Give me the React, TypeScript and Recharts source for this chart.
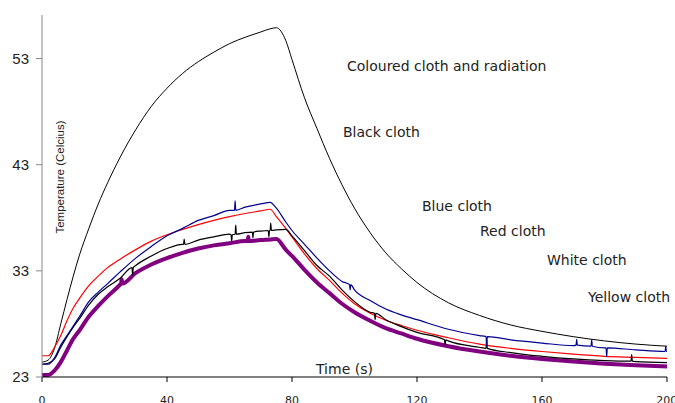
import { LineChart, Line, XAxis, YAxis } from "recharts";

// time in seconds, shared by the five base series
const time = [0, 2, 4, 6, 8, 10, 12, 15, 18, 21, 25, 30, 35, 40, 45, 50, 55, 60, 65, 70, 73, 75, 78, 80, 84, 88, 92, 96, 100, 105, 110, 115, 120, 130, 140, 150, 160, 170, 180, 190, 200];

const blackCloth = [24.4, 24.6, 25.7, 28.0, 30.3, 32.5, 34.5, 37.0, 39.3, 41.3, 43.7, 46.3, 48.5, 50.2, 51.6, 52.7, 53.6, 54.4, 55.0, 55.5, 55.8, 55.9, 54.7, 52.9, 49.3, 46.4, 43.6, 41.1, 38.9, 36.6, 34.7, 33.2, 31.9, 30.0, 28.8, 27.9, 27.3, 26.8, 26.4, 26.1, 25.9];
const blueCloth = [24.2, 24.2, 24.8, 26.0, 26.9, 27.8, 28.7, 30.1, 31.0, 31.8, 32.9, 34.2, 35.3, 36.3, 37.0, 37.75, 38.2, 38.7, 39.0, 39.3, 39.45, 38.9, 37.6, 36.8, 35.5, 34.2, 33.0, 32.0, 31.2, 30.2, 29.4, 28.85, 28.4, 27.5, 26.9, 26.5, 26.2, 25.95, 25.75, 25.55, 25.4];
const redCloth = [25.0, 25.0, 25.8, 26.9, 28.3, 29.5, 30.4, 31.6, 32.5, 33.3, 34.1, 35.0, 35.8, 36.4, 36.9, 37.35, 37.75, 38.1, 38.4, 38.65, 38.8, 38.1, 37.0, 36.2, 34.6, 33.2, 32.1, 30.9, 29.9, 29.0, 28.35, 27.85, 27.4, 26.7, 26.1, 25.7, 25.4, 25.15, 24.95, 24.85, 24.75];
const whiteCloth = [24.2, 24.3, 24.7, 25.8, 26.8, 27.7, 28.5, 29.8, 30.8, 31.5, 32.3, 33.5, 34.4, 35.1, 35.5, 35.9, 36.2, 36.45, 36.6, 36.75, 36.8, 36.85, 36.9, 36.3, 34.9, 33.5, 32.5, 31.2, 30.1, 29.1, 28.4, 27.75, 27.2, 26.4, 25.8, 25.3, 24.95, 24.7, 24.55, 24.45, 24.35];
const yellowCloth = [23.2, 23.2, 23.6, 24.4, 25.5, 26.6, 27.4, 28.7, 29.7, 30.6, 31.7, 32.8, 33.6, 34.2, 34.7, 35.1, 35.4, 35.6, 35.8, 35.9, 35.95, 36.0, 35.0, 34.4, 33.1, 31.9, 30.9, 29.9, 29.1, 28.3, 27.6, 27.1, 26.6, 25.9, 25.4, 25.0, 24.7, 24.45, 24.25, 24.1, 24.0];

// sensor glitches: [time, level, spike tip]
const blueSpikes = [[61.8, 38.7, 39.6], [98.6, 31.7, 31.2], [142.3, 26.8, 25.9], [171.1, 26.0, 26.55], [175.9, 25.9, 26.5], [180.7, 25.75, 24.9], [199.6, 25.4, 25.9]];
const whiteSpikes = [[29, 33.3, 32.6], [45.5, 35.5, 36.0], [60.7, 36.4, 35.8], [62, 36.45, 37.3], [67.5, 36.65, 36.1], [72.6, 36.8, 36.2], [73.2, 36.8, 37.5], [106.6, 29.0, 28.4], [129, 26.5, 26.0], [142.3, 25.7, 26.5], [188.7, 24.5, 25.1]];
const yellowSpikes = [[25.5, 31.8, 32.2], [66, 35.8, 36.2]];
const noSpikes: number[][] = [];

const xTicks = [0, 40, 80, 120, 160, 200];
const yTicks = [23, 33, 43, 53];

function points(values: number[], spikes: number[][]) {
  const pts = time.map((t, i) => ({ t, v: values[i] }));
  spikes.forEach(([t, base, tip]) => {
    pts.push({ t: t - 0.2, v: base }, { t, v: tip }, { t: t + 0.2, v: base });
  });
  return pts.sort((a, b) => a.t - b.t);
}

const labelFont = "'DejaVu Sans', Verdana, sans-serif";

export default function App() {
  return (
    <div style={{ position: "absolute", left: 0, top: 0, width: 675, height: 403, background: "#fff" }}>
      <LineChart width={675} height={403} margin={{ top: 15, right: 8, bottom: 0, left: 0 }}>
        <XAxis
          type="number"
          dataKey="t"
          domain={[0, 200]}
          ticks={xTicks}
          allowDuplicatedCategory={false}
          height={26}
          stroke="#000"
          tickSize={5}
          tickMargin={14}
          tick={{ fill: "#222", fontSize: 11, fontFamily: labelFont }}
        />
        <YAxis
          type="number"
          domain={[23, 57.1]}
          ticks={yTicks}
          allowDataOverflow
          width={42}
          stroke="#888"
          tickSize={6}
          tickMargin={7}
          tick={{ fill: "#222", fontSize: 15, fontFamily: "'Liberation Sans', Arial, sans-serif" }}
        />
        <Line data={points(blackCloth, noSpikes)} dataKey="v" type="monotone" stroke="#000" strokeWidth={1} dot={false} activeDot={false} isAnimationActive={false} />
        <Line data={points(yellowCloth, yellowSpikes)} dataKey="v" type="monotone" stroke="#800080" strokeWidth={4} dot={false} activeDot={false} isAnimationActive={false} />
        <Line data={points(redCloth, noSpikes)} dataKey="v" type="monotone" stroke="#ff0000" strokeWidth={1.2} dot={false} activeDot={false} isAnimationActive={false} />
        <Line data={points(whiteCloth, whiteSpikes)} dataKey="v" type="monotone" stroke="#000" strokeWidth={1.2} dot={false} activeDot={false} isAnimationActive={false} />
        <Line data={points(blueCloth, blueSpikes)} dataKey="v" type="monotone" stroke="#000090" strokeWidth={1.2} dot={false} activeDot={false} isAnimationActive={false} />
      </LineChart>
      <svg width={675} height={403} style={{ position: "absolute", left: 0, top: 0, pointerEvents: "none" }}>
        <g fontFamily={labelFont} fontSize={14} fill="#222">
          <text x={347} y={71}>Coloured cloth and radiation</text>
          <text x={343} y={137}>Black cloth</text>
          <text x={422} y={211}>Blue cloth</text>
          <text x={480} y={236}>Red cloth</text>
          <text x={547} y={265}>White cloth</text>
          <text x={588} y={302}>Yellow cloth</text>
          <text x={316} y={374}>Time (s)</text>
        </g>
        <text
          x={0}
          y={0}
          transform="translate(64,177) rotate(-90)"
          textAnchor="middle"
          fontFamily="'Liberation Sans', Arial, sans-serif"
          fontSize={11.5}
          fill="#222"
        >
          Temperature (Celcius)
        </text>
      </svg>
    </div>
  );
}
